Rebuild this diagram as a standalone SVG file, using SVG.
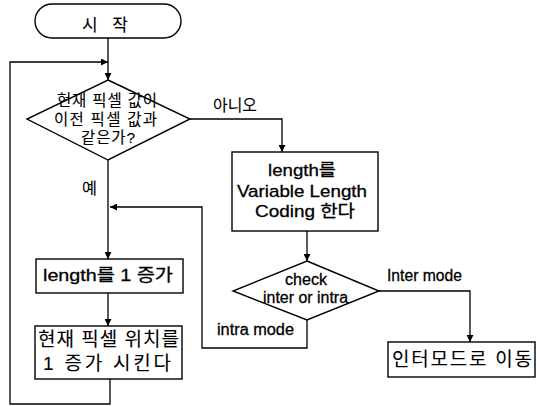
<svg xmlns="http://www.w3.org/2000/svg" width="537" height="406" viewBox="0 0 537 406">
<style>
.s{fill:#fff;stroke:#000;stroke-width:1.4}
.c{fill:none;stroke:#000;stroke-width:1.3}
text{font-family:"Liberation Sans","Noto Sans CJK KR",sans-serif;font-size:16px;fill:#000;stroke:#000;stroke-width:0.3}
.k{stroke-width:0.1}
.b{font-size:17px}
.g{font-size:19px}
.d{font-size:15.5px}
</style>
<defs>
<marker id="a" viewBox="0 0 10 10" refX="10" refY="5" markerWidth="8" markerHeight="7" markerUnits="userSpaceOnUse" orient="auto">
<path d="M0,0 L10,5 L0,10 z" fill="#000"/>
</marker>
</defs>
<rect width="537" height="406" fill="#fff"/>
<g id="connectors">
<path class="c" d="M108,38 V80" marker-end="url(#a)"/>
<path class="c" d="M190,119 H282 V152" marker-end="url(#a)"/>
<path class="c" d="M307,231 V261" marker-end="url(#a)"/>
<path class="c" d="M379,291 H470 V342" marker-end="url(#a)"/>
<path class="c" d="M307,320 V348 H202 V207 H110" marker-end="url(#a)"/>
<path class="c" d="M108,160 V259" marker-end="url(#a)"/>
<path class="c" d="M108,293 V326" marker-end="url(#a)"/>
<path class="c" d="M110,379 V404 H10 V62 H108" marker-end="url(#a)"/>
<text class="k" x="213" y="111" textLength="44" lengthAdjust="spacingAndGlyphs">아니오</text>
<text class="k" x="82" y="194" textLength="15" lengthAdjust="spacingAndGlyphs">예</text>
<text x="387" y="281" textLength="75" lengthAdjust="spacingAndGlyphs">Inter mode</text>
<text x="217" y="335" textLength="77" lengthAdjust="spacingAndGlyphs">intra mode</text>
</g>
<g id="start">
<rect class="s" x="35" y="4" width="146" height="34" rx="17"/>
<text class="k b" x="82" y="31" textLength="46" lengthAdjust="spacing">시 작</text>
</g>
<g id="decision1">
<path class="s" d="M108,80 L190,119 L108,160 L27,119 z"/>
<text class="k d" x="57" y="106" textLength="100" lengthAdjust="spacing">현재 픽셀 값이</text>
<text class="k d" x="54" y="125" textLength="103" lengthAdjust="spacing">이전 픽셀 값과</text>
<text class="k d" x="81" y="143" textLength="54" lengthAdjust="spacing">같은가?</text>
</g>
<g id="vlc">
<rect class="s" x="232" y="152" width="146" height="79"/>
<text class="b" x="268" y="176" textLength="68" lengthAdjust="spacingAndGlyphs">length를</text>
<text class="b" x="237" y="197" textLength="130" lengthAdjust="spacingAndGlyphs">Variable Length</text>
<text class="b" x="255" y="217" textLength="100" lengthAdjust="spacingAndGlyphs">Coding 한다</text>
</g>
<g id="decision2">
<path class="s" d="M307,261 L379,291 L307,320 L233,291 z"/>
<text x="285" y="285" textLength="42" lengthAdjust="spacingAndGlyphs">check</text>
<text x="263" y="303" textLength="85" lengthAdjust="spacingAndGlyphs">inter or intra</text>
</g>
<g id="intermode">
<rect class="s" x="388" y="342" width="147" height="35"/>
<text class="k g" x="392" y="366" textLength="140" lengthAdjust="spacing">인터모드로 이동</text>
</g>
<g id="inc-length">
<rect class="s" x="36" y="259" width="147" height="34"/>
<text class="b" x="43" y="281" textLength="130" lengthAdjust="spacingAndGlyphs">length를 1 증가</text>
</g>
<g id="inc-pos">
<rect class="s" x="35" y="326" width="147" height="53"/>
<text class="k g" x="38" y="346" textLength="141" lengthAdjust="spacing">현재 픽셀 위치를</text>
<text class="k g" x="43" y="370" textLength="128" lengthAdjust="spacing">1 증가 시킨다</text>
</g>
</svg>
